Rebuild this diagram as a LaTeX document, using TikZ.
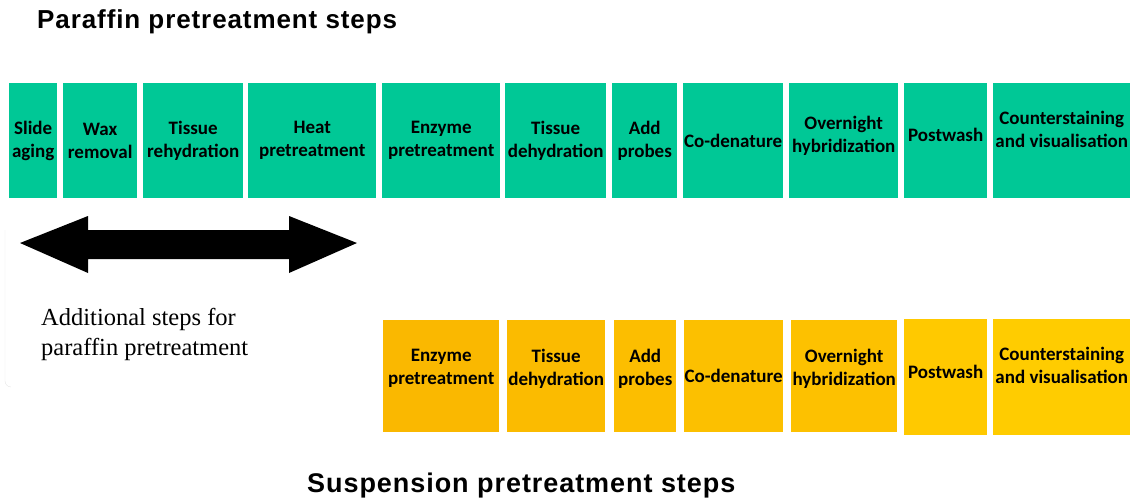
\documentclass[tikz,border=0pt]{standalone}
\usepackage{fontspec}
\setmainfont{Liberation Serif}
\newfontfamily\boxfont{Carlito}
\newfontfamily\titlefont[LetterSpace=3.5]{Liberation Sans}
\usetikzlibrary{positioning}

\definecolor{parteal}{RGB}{0,200,150}
\definecolor{susA}{RGB}{250,184,0}
\definecolor{susB}{RGB}{251,187,0}
\definecolor{susC}{RGB}{252,190,0}
\definecolor{susD}{RGB}{252,192,0}
\definecolor{susE}{RGB}{253,193,0}
\definecolor{susF}{RGB}{255,201,0}
\definecolor{susG}{RGB}{255,204,0}

\tikzset{
	stepbox/.style={inner sep=0pt, anchor=north west, align=center, font=\boxfont\bfseries\fontsize{19}{23}\selectfont},
	paraffin/.style={stepbox, fill=parteal, minimum height=115pt},
	suspension/.style={stepbox, minimum height=112pt},
	heading/.style={anchor=base west, inner sep=0pt, font=\titlefont\bfseries\fontsize{26}{30}\selectfont}
}

\begin{document}
\begin{tikzpicture}[x=1pt, y=-1pt]
	
	\useasboundingbox (0,0) rectangle (1130,503);
	
	\node[heading] (partitle) at (37,29) {Paraffin pretreatment steps};
	
	% paraffin row
	\node[paraffin, minimum width=48pt] (slide) at (9,83) {Slide\\aging};
	\node[paraffin, minimum width=74pt] (wax) at (63,83) {Wax\\removal};
	\node[paraffin, minimum width=100pt] (rehyd) at (143,83) {Tissue\\rehydration};
	\node[paraffin, minimum width=128pt] (heat) at (248,83) {Heat\\pretreatment};
	\node[paraffin, minimum width=118pt] (enz1) at (382,83) {Enzyme\\pretreatment};
	\node[paraffin, minimum width=101pt] (dehyd1) at (505,83) {Tissue\\dehydration};
	\node[paraffin, minimum width=65pt] (probes1) at (612,83) {Add\\probes};
	\node[paraffin, minimum width=100pt] (coden1) at (683,83) {Co-denature};
	\node[paraffin, minimum width=109pt] (hybr1) at (789,83) {Overnight\\hybridization\\[-10pt]};
	\node[paraffin, minimum width=83pt] (post1) at (904,83) {Postwash\\[-12pt]};
	\node[paraffin, minimum width=137pt] (count1) at (993,83) {Counterstaining\\and visualisation\\\mbox{}};
	
	% faint frame round the note
	\draw[black!10] (5,230) -- (5,381) to[out=-90, in=180] (11,387);
	
	\fill[black] (20,243) -- (88,216) -- (88,230) -- (289,230) -- (289,216) -- (357,243)
		-- (289,273) -- (289,259) -- (88,259) -- (88,273) -- cycle;
	
	\node[anchor=north west, inner sep=0pt, align=left, font=\fontsize{24.5}{30}\selectfont] (note) at (41,308) {Additional steps for\\paraffin pretreatment};
	
	% suspension row
	\node[suspension, fill=susA, minimum width=116pt] (enz2) at (383,320) {Enzyme\\pretreatment\\[-5pt]};
	\node[suspension, fill=susB, minimum width=98pt] (dehyd2) at (507,320) {Tissue\\dehydration\\[-5pt]};
	\node[suspension, fill=susC, minimum width=62pt] (probes2) at (614,320) {Add\\probes\\[-5pt]};
	\node[suspension, fill=susD, minimum width=99pt] (coden2) at (684,320) {Co-denature};
	\node[suspension, fill=susE, minimum width=106pt] (hybr2) at (791,320) {Overnight\\hybridization\\[-5pt]};
	\node[suspension, fill=susF, minimum width=83pt, minimum height=116pt] (post2) at (904,319) {Postwash\\[-12pt]};
	\node[suspension, fill=susG, minimum width=137pt, minimum height=116pt] (count2) at (993,319) {Counterstaining\\and visualisation\\\mbox{}};
	
	\node[heading, font=\titlefont\bfseries\fontsize{27}{30}\selectfont] (sustitle) at (307,492) {Suspension pretreatment steps};
	
\end{tikzpicture}
\end{document}
